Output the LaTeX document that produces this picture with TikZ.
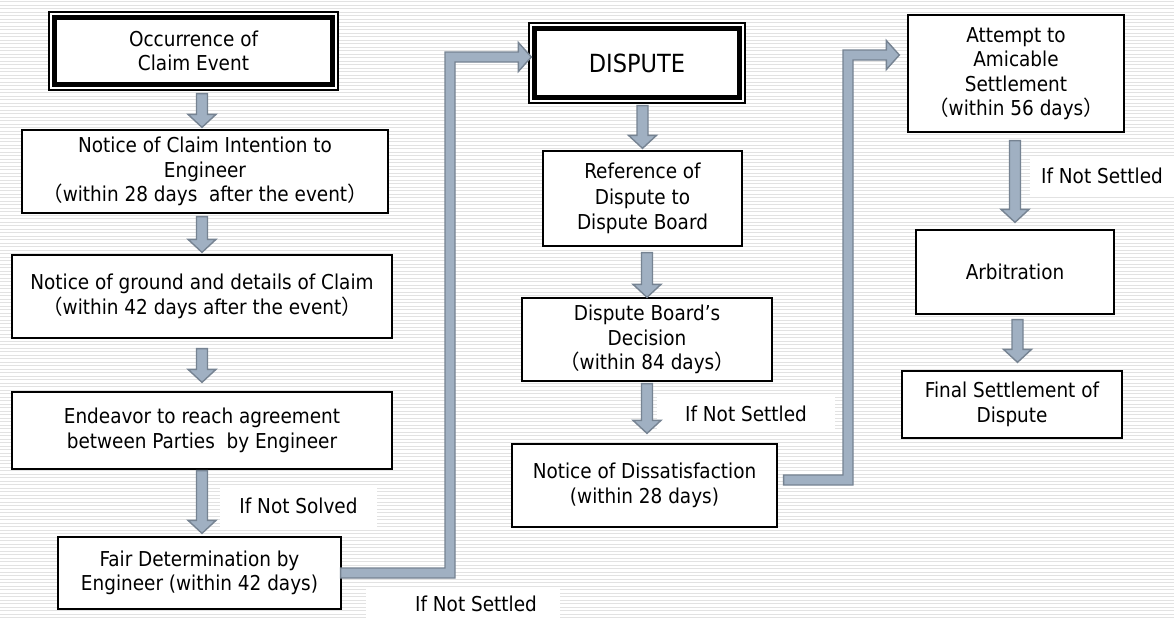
\documentclass[tikz,border=0pt]{standalone}
\usepackage{fontspec}
\setmainfont{DejaVu Sans Condensed}
\newfontfamily\cjktc{Noto Sans CJK TC}
\newfontfamily\cjkjp{Noto Sans CJK JP}
\usetikzlibrary{calc}
\definecolor{arrfill}{RGB}{160,176,194}
\definecolor{arredge}{RGB}{118,131,146}
\definecolor{stripe}{RGB}{226,226,226}
\newcommand{\lp}{{\cjktc （}}
\newcommand{\rp}{{\cjkjp ）}}

\begin{document}
\begin{tikzpicture}[x=1pt,y=-1pt,
  box/.style={draw=black, line width=1.3pt, fill=white, align=center, inner sep=0pt,
    font=\fontsize{20.5}{24.5}\selectfont},
  tag/.style={fill=white, inner sep=0pt, font=\fontsize{20.5}{24.5}\selectfont},
  frame/.style={line width=5pt},
  blockdown/.style={fill=arrfill, draw=arredge, line width=1.4pt, line join=miter,
    to path={let \p1=(\tikztostart), \p2=(\tikztotarget) in
      (\x1-5.5pt,\y1) -- (\x1+5.5pt,\y1) -- (\x1+5.5pt,\y2+13pt) -- (\x1+14pt,\y2+13pt)
      -- (\x1,\y2) -- (\x1-14pt,\y2+13pt) -- (\x1-5.5pt,\y2+13pt) -- cycle}},
  elbow/.style={fill=arrfill, draw=arredge, line width=1.4pt, line join=miter,
    to path={let \p1=(\tikztostart), \p2=(\tikztotarget) in
      (\x1,\y1-5pt) -- (#1pt+5pt,\y1-5pt) -- (#1pt+5pt,\y2-5pt) -- (\x2-13pt,\y2-5pt)
      -- (\x2-13pt,\y2-14.5pt) -- (\x2,\y2) -- (\x2-13pt,\y2+14.5pt) -- (\x2-13pt,\y2+5pt)
      -- (#1pt-5pt,\y2+5pt) -- (#1pt-5pt,\y1+5pt) -- (\x1,\y1+5pt) -- cycle}},
]
\useasboundingbox (0,0) rectangle (1174,619);

% striped backdrop
\fill[white] (0,0) rectangle (1174,619);
\foreach \k in {0,...,176}
  \draw[stripe, line width=1.4pt] (0,1.75+3.5*\k) -- (1174,1.75+3.5*\k);

% condition labels
\node[tag, minimum width=157, minimum height=42] (l1) at (298.5,506) {If Not Solved};
\node[tag, minimum width=178, minimum height=37] (l2) at (746,413.5) {If Not Settled};
\node[tag, minimum width=144, minimum height=37] (l3) at (1102,176) {If Not Settled};
\node[tag, minimum width=194, minimum height=31] (l4) at (463,603.5) {\hspace*{26pt}If Not Settled};

% left column
\node[box, minimum width=289, minimum height=78] (occ) at (193.5,51) {Occurrence of\\Claim Event};
\draw[frame] ([shift={(6.5,6.5)}]occ.north west) rectangle ([shift={(-6.5,-6.5)}]occ.south east);
\node[box, minimum width=366, minimum height=83] (nci) at (205,171.5)
  {Notice of Claim Intention to\\Engineer\\\lp within 28 days\ \ after the event\rp};
\node[box, minimum width=380, minimum height=83] (ngd) at (202,296.5)
  {Notice of ground and details of Claim\\\lp within 42 days after the event\rp};
\node[box, minimum width=380, minimum height=77] (endv) at (202,430.5)
  {Endeavor to reach agreement\\between Parties\ \ by Engineer};
\node[box, minimum width=283, minimum height=72] (fair) at (199.5,573)
  {Fair Determination by\\Engineer (within 42 days)};

% middle column
\node[box, minimum width=216, minimum height=80, font=\fontsize{25}{30}\selectfont] (disp) at (637,63) {DISPUTE};
\draw[frame] ([shift={(6,6)}]disp.north west) rectangle ([shift={(-6,-6)}]disp.south east);
\node[box, minimum width=199, minimum height=95, font=\fontsize{20.5}{25.5}\selectfont] (ref) at (642.5,198.5)
  {Reference of\\Dispute to\\Dispute Board};
\node[box, minimum width=250, minimum height=83] (dec) at (647,339.5)
  {Dispute Board’s\\Decision\\\lp within 84 days\rp};
\node[box, minimum width=265, minimum height=83] (nod) at (644.5,485.5)
  {Notice of Dissatisfaction\\(within 28 days)};

% right column
\node[box, minimum width=216, minimum height=117] (att) at (1016,73.5)
  {Attempt to\\Amicable\\Settlement\\\lp within 56 days\rp};
\node[box, minimum width=198, minimum height=84] (arb) at (1015,272) {Arbitration};
\node[box, minimum width=220, minimum height=67] (fin) at (1012,404.5)
  {Final Settlement of\\Dispute};

% downward block arrows
\draw[blockdown] ([yshift=-3pt]occ.south -| ngd.north) to ([yshift=2pt]nci.north -| ngd.north);
\draw[blockdown] ([yshift=-3pt]nci.south -| ngd.north) to ([yshift=2pt]ngd.north);
\draw[blockdown] ([yshift=-10pt]ngd.south) to ([yshift=9pt]endv.north);
\draw[blockdown] ([yshift=-1pt]endv.south) to ([yshift=3pt]fair.north -| endv.north);
\draw[blockdown] ([yshift=-2pt]disp.south -| ref.north) to ([yshift=2pt]ref.north);
\draw[blockdown] ([yshift=-6pt]ref.south -| dec.north) to (dec.north);
\draw[blockdown] ([yshift=-2pt]dec.south) to ([yshift=10pt]nod.north -| dec.north);
\draw[blockdown] ([yshift=-8pt]att.south -| arb.north) to ([yshift=7pt]arb.north);
\draw[blockdown] ([shift={(2.5,5)}]arb.south) to ([shift={(2.5,-8)}]arb.south |- fin.north);

% elbow connectors into the dispute stages
\coordinate (t1) at ($(disp.west |- 0,57)+(3,0)$);
\coordinate (t2) at ($(att.west |- 0,55)+(-8,0)$);
\draw[elbow=450] ([xshift=-1pt]fair.east) to (t1);
\draw[elbow=848] ([shift={(6,-5.5)}]nod.east) to (t2);
\end{tikzpicture}
\end{document}
